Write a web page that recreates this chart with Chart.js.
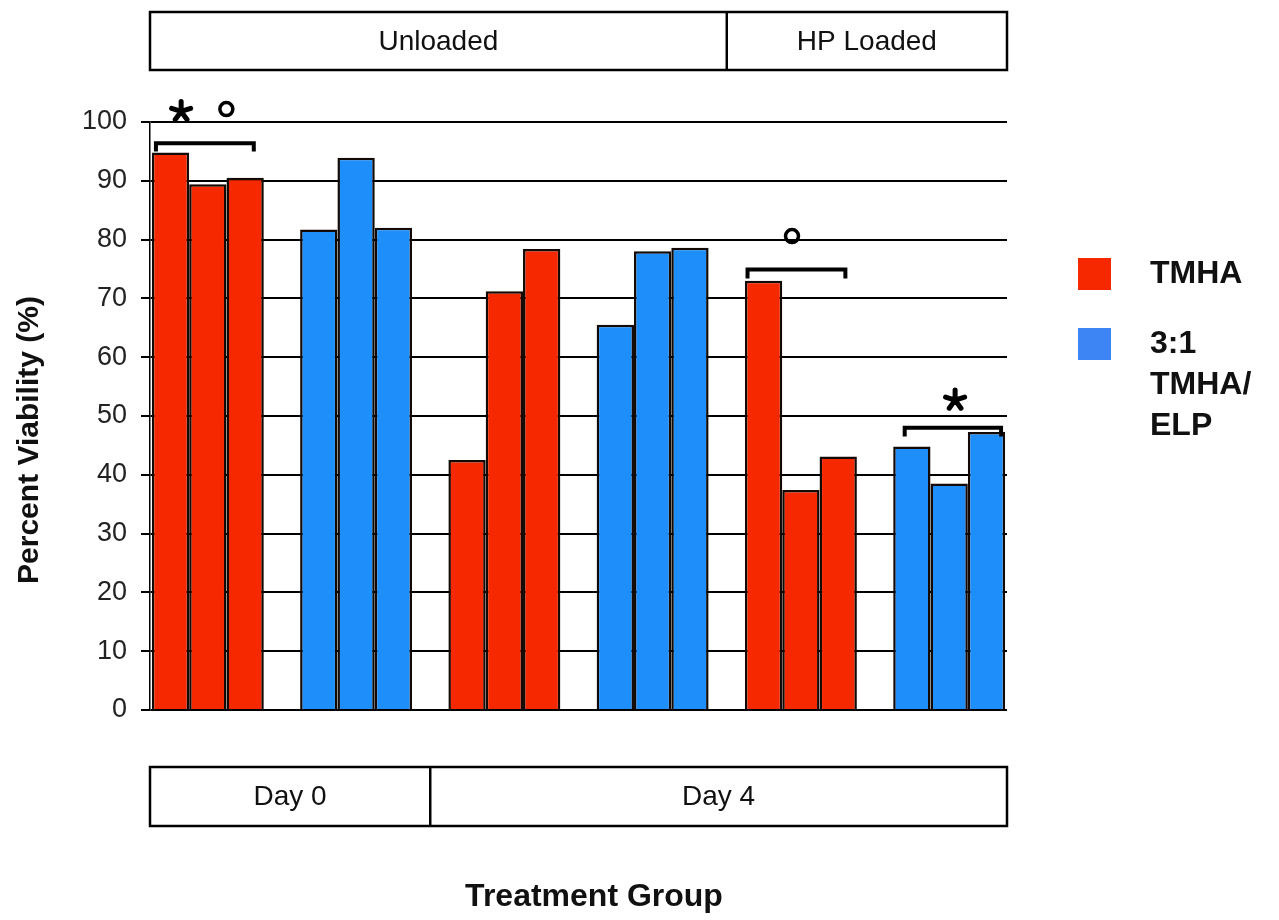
<!DOCTYPE html>
<html>
<head>
<meta charset="utf-8">
<title>Percent Viability by Treatment Group</title>
<script src="https://cdn.jsdelivr.net/npm/chart.js@4.4.1/dist/chart.umd.min.js"></script>
<style>
  html, body { margin: 0; padding: 0; background: #fff; }
  #wrap { width: 1279px; height: 920px; }
</style>
</head>
<body>
<div id="wrap"><canvas id="graph" width="1279" height="920"></canvas></div>
<script>
// treatment groups, left to right
const groups = ['Day 0 TMHA', 'Day 0 3:1 TMHA/ELP', 'Day 4 TMHA', 'Day 4 3:1 TMHA/ELP', 'Day 4 HP TMHA', 'Day 4 HP 3:1 TMHA/ELP'];
const groupMaterial = ['TMHA', 'ELP', 'TMHA', 'ELP', 'TMHA', 'ELP'];

// three replicate bars per group, percent viability
const rep1 = [94.8, 81.7, 42.5, 65.5, 73.0, 44.8];
const rep2 = [89.4, 93.9, 71.2, 78.0, 37.4, 38.5];
const rep3 = [90.5, 82.0, 78.4, 78.6, 43.1, 47.3];

const yTicks = [0, 10, 20, 30, 40, 50, 60, 70, 80, 90, 100];

// header bands: label, first group, last group
const loadBands = [['Unloaded', 0, 3], ['HP Loaded', 4, 5]];
const dayBands = [['Day 0', 0, 1], ['Day 4', 2, 5]];

const legendItems = [
    { key: 'TMHA', lines: ['TMHA'] },
    { key: 'ELP', lines: ['3:1', 'TMHA/', 'ELP'] }
];

const barColor = { TMHA: '#f52800', ELP: '#1e8ffa' };
const legendColor = { TMHA: '#f52800', ELP: '#3d85f5' };

// significance brackets (x offsets are relative to the group centre)
const brackets = [
    { group: 0, from: -0.35, to: 0.31, y: 96.4, drop: 1.4, marks: [['star', -0.18, 101.8], ['ring', 0.125, 102.2]] },
    { group: 4, from: -0.36, to: 0.30, y: 74.9, drop: 1.5, marks: [['ring', -0.06, 80.6]] },
    { group: 5, from: -0.30, to: 0.35, y: 48.0, drop: 1.5, marks: [['star', 0.04, 52.7]] }
];

const FONT = '"Liberation Sans", Arial, sans-serif';

const extras = {
    id: 'extras',
    afterDatasetsDraw(chart) {
        const ctx = chart.ctx, xs = chart.scales.x, ys = chart.scales.y;
        ctx.save();
        ctx.strokeStyle = '#000';
        ctx.fillStyle = '#000';
        brackets.forEach(b => {
            const x0 = xs.getPixelForValue(b.group + b.from);
            const x1 = xs.getPixelForValue(b.group + b.to);
            const y = ys.getPixelForValue(b.y);
            const yd = ys.getPixelForValue(b.y - b.drop);
            ctx.lineWidth = 4;
            ctx.beginPath();
            ctx.moveTo(x0, yd);
            ctx.lineTo(x0, y);
            ctx.lineTo(x1, y);
            ctx.lineTo(x1, yd);
            ctx.stroke();
            b.marks.forEach(m => {
                const mx = xs.getPixelForValue(b.group + m[1]);
                const my = ys.getPixelForValue(m[2]);
                if (m[0] === 'ring') {
                    ctx.lineWidth = 3.5;
                    ctx.beginPath();
                    ctx.arc(mx, my, 6.5, 0, Math.PI * 2);
                    ctx.stroke();
                } else {
                    ctx.lineWidth = 5;
                    ctx.lineCap = 'round';
                    ctx.beginPath();
                    for (let k = 0; k < 5; k++) {
                        const a = -Math.PI / 2 + k * 2 * Math.PI / 5;
                        ctx.moveTo(mx, my);
                        ctx.lineTo(mx + 10 * Math.cos(a), my + 10 * Math.sin(a));
                    }
                    ctx.stroke();
                    ctx.lineCap = 'butt';
                }
            });
        });
        ctx.restore();
    },
    afterDraw(chart) {
        const ctx = chart.ctx, xs = chart.scales.x, area = chart.chartArea;

        function band(list, top, bottom) {
            ctx.save();
            ctx.strokeStyle = '#000';
            ctx.lineWidth = 2.5;
            ctx.strokeRect(area.left, top, area.right - area.left, bottom - top);
            ctx.fillStyle = '#111';
            ctx.font = '28px ' + FONT;
            ctx.textAlign = 'center';
            ctx.textBaseline = 'middle';
            list.forEach((b, k) => {
                const x0 = k === 0 ? area.left : xs.getPixelForValue(b[1] - 0.5);
                const x1 = k === list.length - 1 ? area.right : xs.getPixelForValue(b[2] + 0.5);
                if (k > 0) {
                    ctx.beginPath();
                    ctx.moveTo(x0, top);
                    ctx.lineTo(x0, bottom);
                    ctx.stroke();
                }
                ctx.fillText(b[0], (x0 + x1) / 2, (top + bottom) / 2 + 1);
            });
            ctx.restore();
        }
        band(loadBands, 12, 70);
        band(dayBands, 767, 826);

        // axis titles
        ctx.save();
        ctx.fillStyle = '#111';
        ctx.font = 'bold 32px ' + FONT;
        ctx.textAlign = 'center';
        ctx.textBaseline = 'middle';
        ctx.fillText('Treatment Group', 594, 897);
        ctx.translate(30, 440);
        ctx.rotate(-Math.PI / 2);
        ctx.font = 'bold 30px ' + FONT;
        ctx.fillText('Percent Viability (%)', 0, 0);
        ctx.restore();

        // legend
        ctx.save();
        ctx.font = 'bold 32px ' + FONT;
        ctx.textAlign = 'left';
        ctx.textBaseline = 'middle';
        let top = 258;
        legendItems.forEach(item => {
            ctx.fillStyle = legendColor[item.key];
            ctx.fillRect(1078, top, 33, 32);
            ctx.fillStyle = '#111';
            item.lines.forEach((line, k) => {
                ctx.fillText(line, 1150, top + 16 + k * 41);
            });
            top += 70;
        });
        ctx.restore();
    }
};

const colors = groupMaterial.map(m => barColor[m]);
const toPoints = arr => arr.map((v, i) => ({ x: i, y: v }));

new Chart(document.getElementById('graph'), {
    type: 'bar',
    data: {
        labels: groups,
        datasets: [rep1, rep2, rep3].map((rep, k) => ({
            label: 'Replicate ' + (k + 1),
            data: toPoints(rep),
            backgroundColor: colors,
            borderColor: '#140a05',
            borderWidth: 2.5,
            categoryPercentage: 0.755,
            barPercentage: 1.0
        }))
    },
    options: {
        responsive: false,
        animation: false,
        layout: { padding: { left: 0, right: 272, top: 122, bottom: 210 } },
        plugins: {
            legend: { display: false },
            tooltip: { enabled: false }
        },
        scales: {
            x: {
                type: 'linear',
                display: false,
                offset: false,
                min: -0.39,
                max: 5.39,
                afterBuildTicks: scale => { scale.ticks = groups.map((g, i) => ({ value: i })); },
                grid: { display: false, offset: false }
            },
            y: {
                min: 0,
                max: 100,
                afterBuildTicks: scale => { scale.ticks = yTicks.map(v => ({ value: v })); },
                afterFit: scale => { scale.width = 150; },
                border: { display: true, color: '#000', width: 1.5 },
                grid: { color: '#000', lineWidth: 2, tickLength: 9, tickColor: '#000' },
                ticks: {
                    padding: 14,
                    color: '#222',
                    font: { family: FONT, size: 27 }
                }
            }
        }
    },
    plugins: [extras]
});
</script>
</body>
</html>
